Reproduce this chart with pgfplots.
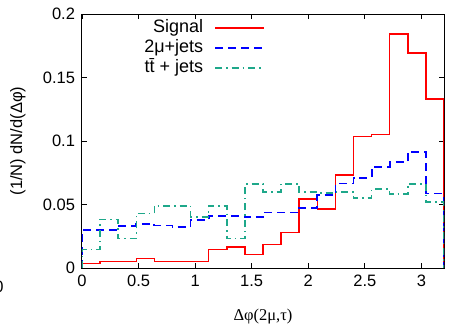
\documentclass[border=0pt]{standalone}
\usepackage{fontspec}
\setmainfont{Liberation Sans}
\newfontfamily\seriffont{Liberation Serif}
\usepackage{pgfplots}
\usepackage{pgfplotstable}
\pgfplotsset{compat=1.18}
\definecolor{sigred}{RGB}{255,0,0}
\definecolor{bgblue}{RGB}{0,0,255}
\definecolor{ttteal}{RGB}{30,168,138}
\newcommand{\legfont}{\fontsize{18bp}{20bp}\selectfont}

\pgfplotstableread{
x sig mu tt
0.00 0 0 0
0.00 0.0035 0.0297 0.0147
0.16 0.0053 0.0297 0.0382
0.32 0.0053 0.0329 0.0232
0.48 0.0073 0.0347 0.0429
0.64 0.0053 0.0334 0.0490
0.80 0.0053 0.0321 0.0490
0.96 0.0053 0.0376 0.0403
1.12 0.0147 0.0411 0.0490
1.28 0.0166 0.0411 0.0232
1.44 0.0108 0.0400 0.0663
1.60 0.0184 0.0437 0.0600
1.76 0.0279 0.0437 0.0663
1.92 0.0542 0.0474 0.0597
2.08 0.0466 0.0574 0.0592
2.24 0.0732 0.0666 0.0600
2.40 0.1037 0.0711 0.0550
2.56 0.1050 0.0797 0.0621
2.72 0.1842 0.0832 0.0582
2.88 0.1692 0.0916 0.0663
3.04 0.1332 0.0587 0.0518
3.20 0.1332 0.0587 0.0518
3.20 0 0 0
}\hist

\begin{document}
\begin{tikzpicture}[font=\fontsize{16.5bp}{19bp}\selectfont]
\begin{axis}[
  scale only axis,
  width=362bp, height=254bp,
  xmin=0, xmax=3.2, ymin=0, ymax=0.2,
  xtick={0,0.5,1,1.5,2,2.5,3},
  ytick={0,0.05,0.1,0.15,0.2},
  yticklabels={0,0.05,0.1,0.15,0.2},
  xticklabels={0,0.5,1,1.5,2,2.5,3},
  tick align=inside,
  major tick length=5bp,
  tick style={black, line width=0.8bp},
  axis line style={line width=1bp},
  yticklabel style={xshift=-3.5bp},
  xticklabel style={yshift=-3.5bp},
  xlabel={\seriffont Δφ(2μ,τ)},
  xlabel style={at={(axis description cs:0.5,-0.193)}, anchor=center},
  ylabel={(1/N) dN/d(Δφ)},
  ylabel style={at={(axis description cs:-0.177,0.5)}, anchor=center},
  legend style={at={(rel axis cs:0.506,0.986)}, anchor=north east, draw=none, fill=none,
    inner sep=0pt, row sep=0bp, column sep=10bp,
    nodes={inner sep=1bp, text height=13.5bp, text depth=4.5bp}},
  legend cell align=right,
  legend plot pos=right,
  legend image code/.code={\draw[#1] (0bp,0bp) -- (49bp,0bp);},
]
\addplot[const plot mark left, sigred, line width=1.5bp] table[x=x, y=sig] {\hist};
\addlegendentry{\legfont Signal}
\addplot[const plot mark left, bgblue, line width=1.8bp, dash pattern=on 8bp off 5bp] table[x=x, y=mu] {\hist};
\addlegendentry{\legfont 2μ+jets}
\addplot[const plot mark left, ttteal, line width=1.5bp, dash pattern=on 7bp off 4bp on 1.5bp off 4bp] table[x=x, y=tt] {\hist};
\addlegendentry{\legfont t\={t} + jets}
\end{axis}
\node at (-83bp,-19bp) {0};
\pgfresetboundingbox
\useasboundingbox (-82bp,-60bp) rectangle (369bp,268bp);
\end{tikzpicture}
\end{document}
